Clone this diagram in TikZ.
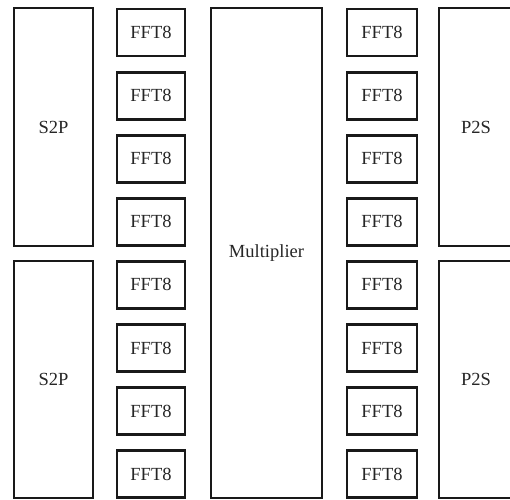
\documentclass[tikz,border=0pt]{standalone}
\usepackage{fontspec}
\setmainfont{Liberation Serif}
\begin{document}
\begin{tikzpicture}[x=1pt,y=-1pt,
  fftbox/.style={draw=black!90, line width=2.8pt, minimum width=68pt, minimum height=47pt, inner sep=0pt, text=black!85, font=\fontsize{18.5}{18.5}\selectfont},
  bigbox/.style={draw=black!90, line width=2.2pt, inner sep=0pt, text=black!85, font=\fontsize{18.5}{18.5}\selectfont}]
\useasboundingbox (0,0) rectangle (510,499);
\clip (0,0) rectangle (510,499);
\fill[white] (0,0) rectangle (510,499);
% S2P
\node[bigbox, minimum width=79pt, minimum height=238pt] (s2pa) at (53.5,127) {S2P};
\node[bigbox, minimum width=79pt, minimum height=237pt] (s2pb) at (53.5,379.5) {S2P};
% Multiplier
\node[bigbox, minimum width=111pt, minimum height=490pt] (mult) at (266.5,253) {Multiplier};
% P2S
\node[bigbox, minimum width=74pt, minimum height=238pt] (p2sa) at (476,127) {P2S};
\node[bigbox, minimum width=74pt, minimum height=237pt] (p2sb) at (476,379.5) {P2S};
% FFT8 columns
\foreach \i in {0,...,7} {
  \node[fftbox] (fl\i) at (151,{32.5+63.1*\i}) {FFT8};
  \node[fftbox, minimum width=70pt] (fr\i) at (382,{32.5+63.1*\i}) {FFT8};
}
\end{tikzpicture}
\end{document}
